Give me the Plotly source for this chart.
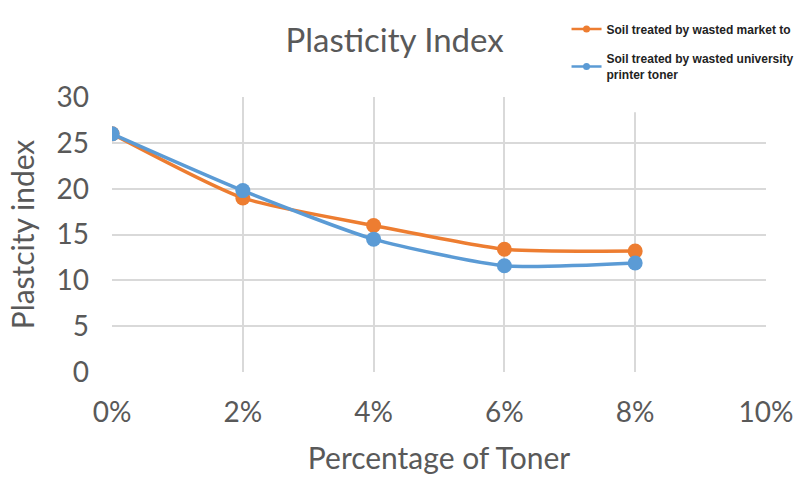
import plotly.graph_objects as go

x_pct = [0, 2, 4, 6, 8]
market = [26.0, 19.0, 16.0, 13.4, 13.2]
university = [26.0, 19.8, 14.5, 11.6, 11.9]
x_ticks = [0, 2, 4, 6, 8, 10]
x_tick_labels = ["0%", "2%", "4%", "6%", "8%", "10%"]
y_ticks = [0, 5, 10, 15, 20, 25, 30]
names = ["Soil treated by wasted market to",
         "Soil treated by wasted university<br>printer toner"]

orange = "#ED7D31"
blue = "#5B9BD5"
font_main = "Lato"
txt = "#595959"

fig = go.Figure()

# white panel (the pasted legend image) hiding the top-right corner of the grid
panel_x = [6.8, 10.2, 10.2, 6.8, 6.8]
panel_y = [28.35, 28.35, 31.0, 31.0, 28.35]
fig.add_trace(go.Scatter(
    x=panel_x, y=panel_y, mode="lines", fill="toself", fillcolor="#FFFFFF",
    line=dict(width=0, color="rgba(255,255,255,0)"), showlegend=False,
    hoverinfo="skip",
))

for vals, col in [(market, orange), (university, blue)]:
    fig.add_trace(go.Scatter(
        x=x_pct, y=vals, mode="lines+markers", showlegend=False,
        line=dict(color=col, width=3.5, shape="spline", smoothing=0.6),
        marker=dict(color=col, size=15),
    ))
# legend-only entries with small markers
for i, (name, col) in enumerate(zip(names, [orange, blue])):
    fig.add_trace(go.Scatter(
        x=[None], y=[None], mode="lines+markers", name=name, legendgroup=f"g{i}",
        line=dict(color=col, width=2.5), marker=dict(color=col, size=7),
    ))

fig.update_layout(
    width=794, height=477,
    margin=dict(l=112, r=28, t=97, b=105, autoexpand=False),
    paper_bgcolor="white", plot_bgcolor="white",
    title=dict(text="Plasticity Index", x=0.497, xanchor="center", y=0.915, yanchor="middle",
               font=dict(family=font_main, size=33, color=txt)),
    font=dict(family=font_main, color=txt),
    showlegend=True,
    legend=dict(x=0.695, xanchor="left", y=1.30, yanchor="top",
                bgcolor="rgba(255,255,255,0)", borderwidth=0,
                font=dict(family="Liberation Sans Narrow, Liberation Sans", size=12,
                          color="#222", weight="bold"),
                itemwidth=30, tracegroupgap=11),
)
fig.update_xaxes(
    range=[-0.001, 10.001], tickvals=x_ticks, ticktext=x_tick_labels,
    showgrid=True, gridcolor="#D9D9D9", gridwidth=1.5, zeroline=False, showline=False,
    automargin=False,
    tickfont=dict(size=28, color=txt), ticklabelstandoff=21,
    title=dict(text="Percentage of Toner", font=dict(size=30, color=txt), standoff=20),
)
fig.update_yaxes(
    range=[0, 30.02], tickvals=y_ticks,
    showgrid=True, gridcolor="#D9D9D9", gridwidth=1.5, zeroline=False, showline=False,
    automargin=False,
    tickfont=dict(size=28, color=txt), ticklabelstandoff=22,
    title=dict(text="Plastcity index", font=dict(size=30, color=txt), standoff=13),
)

fig.write_html("out.html")
